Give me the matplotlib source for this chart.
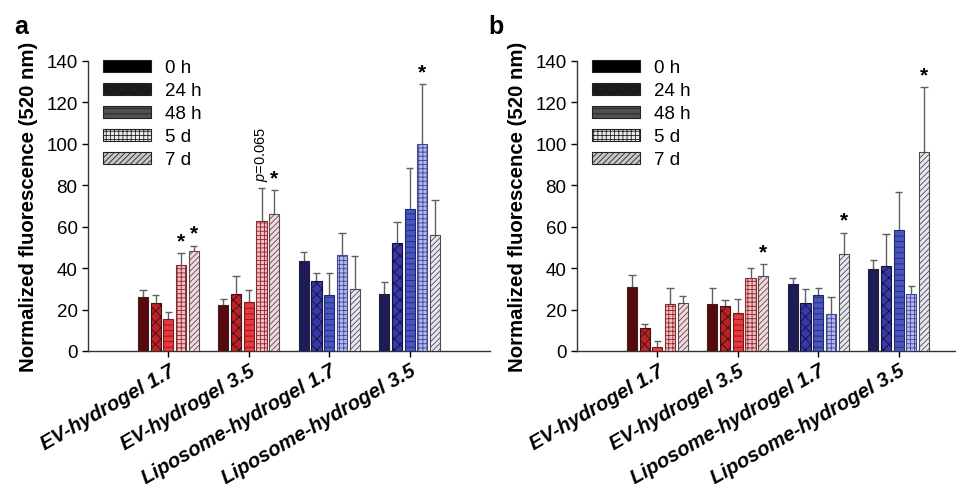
import numpy as np
import matplotlib

matplotlib.use("Agg")
import matplotlib.pyplot as plt
from matplotlib.patches import Patch

plt.rcParams["font.family"] = ["Liberation Sans", "DejaVu Sans"]
plt.rcParams["mathtext.fontset"] = "custom"
plt.rcParams["mathtext.it"] = "Liberation Sans:italic"
plt.rcParams["mathtext.rm"] = "Liberation Sans"
plt.rcParams["hatch.linewidth"] = 0.6

gruplar = ["EV-hydrogel 1.7", "EV-hydrogel 3.5",
           "Liposome-hydrogel 1.7", "Liposome-hydrogel 3.5"]
zamanlar = ["0 h", "24 h", "48 h", "5 d", "7 d"]

# panel a -- orta deyerler (her zaman noqtesi ucun 4 qrup)
a_0h = [26.2, 22.1, 43.6, 27.7]
a_24h = [23.1, 27.3, 33.7, 51.9]
a_48h = [15.2, 23.7, 26.8, 68.5]
a_5d = [41.7, 62.8, 46.5, 99.7]
a_7d = [48.3, 66.0, 30.1, 56.1]
# panel a -- xeta (yuxari)
a_0h_err = [3.1, 2.8, 4.3, 5.8]
a_24h_err = [3.7, 8.8, 3.7, 10.5]
a_48h_err = [3.6, 5.6, 10.9, 19.7]
a_5d_err = [5.4, 15.8, 10.4, 29.0]
a_7d_err = [2.5, 11.7, 15.6, 16.8]

# panel b
b_0h = [30.8, 22.8, 32.1, 39.4]
b_24h = [11.2, 21.6, 23.2, 41.2]
b_48h = [2.1, 18.3, 26.8, 58.5]
b_5d = [22.5, 35.4, 18.0, 27.4]
b_7d = [23.2, 36.4, 46.8, 95.9]
b_0h_err = [5.7, 7.8, 3.0, 4.4]
b_24h_err = [2.0, 2.9, 6.5, 15.4]
b_48h_err = [2.7, 6.7, 3.8, 18.4]
b_5d_err = [8.0, 4.8, 8.2, 4.0]
b_7d_err = [3.4, 5.4, 10.3, 31.5]

# ulduzlar: (qrup, zaman)
a_ulduz = [(0, 3), (0, 4), (1, 4), (3, 3)]
b_ulduz = [(1, 4), (2, 4), (3, 4)]
a_pdeyer = (1, 3, "$p$=0.065")

qirmizi = ["#560a0e", "#bb2228", "#ea383c", "#f2bcc0", "#f2dade"]
goy = ["#1c1c58", "#3838a8", "#4a56c0", "#b4b8e8", "#e8e8ee"]
qirmizi_xett = ["#3a2020", "#3a1010", "#7a1a1e", "#8a2a30", "#5a4a4c"]
goy_xett = ["#20203a", "#10103a", "#1e2a70", "#40489a", "#4a4a55"]
hatchlar = [None, "xxx", "---", "++++", "//////"]
leg_reng = ["#000000", "#1a1a1a", "#505050", "#e8e8e8", "#c8c8c8"]

fig = plt.figure(figsize=(9.56, 4.85), dpi=100)
ax_a = fig.add_axes([88 / 956, 1 - 352 / 485, 402 / 956, 290.3 / 485])
ax_b = fig.add_axes([577 / 956, 1 - 352 / 485, 402 / 956, 290.3 / 485])


def ciz(ax, deyerler, xetalar, ulduzlar, pdeyer=None):
    x = np.arange(len(gruplar))
    addim = 0.158
    en = 0.125
    for i in range(len(zamanlar)):
        xi = x + (i - 2) * addim
        rengler = [qirmizi[i], qirmizi[i], goy[i], goy[i]]
        xettler = [qirmizi_xett[i], qirmizi_xett[i], goy_xett[i], goy_xett[i]]
        ax.bar(xi, deyerler[i], width=en, color=rengler, edgecolor=xettler,
               linewidth=0.8, hatch=hatchlar[i], zorder=3)
        ust = np.array(deyerler[i]) + np.array(xetalar[i])
        ax.vlines(xi, deyerler[i], ust, color="#606060", lw=1.0, zorder=2)
        ax.hlines(ust, xi - 0.045, xi + 0.045, color="#606060", lw=1.0, zorder=2)

    for g, i in ulduzlar:
        xi = g + (i - 2) * addim
        y = deyerler[i][g] + xetalar[i][g]
        ax.annotate("*", (xi, y), xytext=(0, 2), textcoords="offset points",
                    ha="center", va="bottom", fontsize=15, fontweight="bold")
    if pdeyer is not None:
        g, i, metn = pdeyer
        xi = g + (i - 2) * addim
        y = deyerler[i][g] + xetalar[i][g]
        ax.annotate(metn, (xi, y), xytext=(0, 5), textcoords="offset points",
                    ha="center", va="bottom", rotation=90, fontsize=10.5)

    ax.set_xlim(-1, 4)
    ax.set_ylim(0, 140)
    ax.set_yticks(range(0, 141, 20))
    ax.set_xticks(x)
    ax.set_xticklabels(gruplar, rotation=30, ha="right", rotation_mode="anchor",
                       fontsize=14.5, fontweight="bold", fontstyle="italic")
    ax.tick_params(axis="y", labelsize=13.5, direction="out", length=4, width=1)
    ax.tick_params(axis="x", direction="out", length=4, width=1, pad=3)
    ax.spines["top"].set_visible(False)
    ax.spines["right"].set_visible(False)
    for s in ("left", "bottom"):
        ax.spines[s].set_color("#333333")
        ax.spines[s].set_linewidth(1)
    ax.set_ylabel("Normalized fluorescence (520 nm)", fontsize=14.7,
                  fontweight="bold", labelpad=6)

    tutacaqlar = [Patch(facecolor=leg_reng[i], edgecolor="#222222",
                        hatch=hatchlar[i], linewidth=0.8) for i in range(5)]
    ax.legend(tutacaqlar, zamanlar, loc="upper left",
              bbox_to_anchor=(0.018, 1.03), frameon=False, fontsize=13.5,
              handlelength=2.6, handleheight=0.55, handletextpad=0.7,
              labelspacing=0.32, borderaxespad=0)


ciz(ax_a, [a_0h, a_24h, a_48h, a_5d, a_7d],
    [a_0h_err, a_24h_err, a_48h_err, a_5d_err, a_7d_err], a_ulduz, a_pdeyer)
ciz(ax_b, [b_0h, b_24h, b_48h, b_5d, b_7d],
    [b_0h_err, b_24h_err, b_48h_err, b_5d_err, b_7d_err], b_ulduz)

fig.text(14 / 956, 1 - 27 / 485, "a", fontsize=18, fontweight="bold",
         va="center", ha="left")
fig.text(488 / 956, 1 - 27 / 485, "b", fontsize=18, fontweight="bold",
         va="center", ha="left")

fig.savefig("out.png", dpi=100)
